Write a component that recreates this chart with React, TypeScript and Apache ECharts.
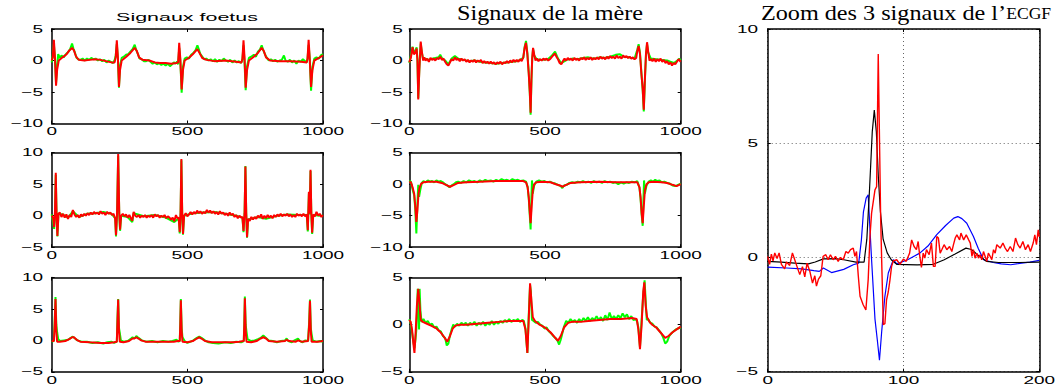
import React, { useEffect, useRef } from "react";
import * as echarts from "echarts";

// ---------- data ----------
const xTicks1000 = [0, 500, 1000];
const xTicks200 = [0, 100, 200];

const foetus1Red = [[0,0],[4,0.5],[8,3.3],[12,0.5],[16,-4.0],[20,-1.5],[26,0],[40,0.5],[55,1.0],[65,1.6],[75,2.0],[82,1.6],[90,0.6],[100,0.1],[120,0],[140,0.1],[160,0.2],[180,0.1],[200,-0.1],[220,-0.3],[232,-0.3],[236,0.5],[240,3.2],[244,0.5],[248,-4.2],[252,-1.5],[258,0],[275,0.6],[290,1.2],[306,2.0],[314,1.5],[322,0.5],[335,0.1],[360,0],[380,-0.3],[400,-0.4],[420,-0.4],[440,-0.5],[460,-0.4],[466,-0.3],[470,2.8],[474,0.3],[479,-4.6],[484,-1.5],[490,0],[505,0.4],[520,1.0],[537,1.8],[545,1.2],[555,0.4],[570,0.1],[600,-0.1],[640,0],[680,-0.2],[700,-0.3],[703,0.3],[707,3.2],[711,0.3],[715,-4.3],[720,-1.5],[727,0],[745,0.6],[760,1.2],[774,2.0],[782,1.5],[790,0.5],[805,0],[840,-0.1],[880,-0.1],[920,-0.2],[940,-0.3],[943,0.3],[947,3.3],[951,0.3],[956,-4.2],[961,-1.5],[968,0],[985,0.4],[1000,0.8]];
const foetus1Green = [[0,-0.3],[4,0.8],[8,2.6],[12,0.2],[16,-3.6],[20,-0.8],[24,1.0],[30,0.4],[36,0.8],[44,0.5],[52,1.0],[60,1.3],[68,1.8],[75,2.7],[80,1.9],[86,1.2],[92,0.4],[98,0.2],[106,0.1],[114,0.3],[122,0],[130,0.3],[138,0.1],[146,0.4],[154,0.2],[162,0.3],[170,0],[178,0.2],[186,-0.1],[194,0.1],[202,-0.3],[210,0],[218,-0.2],[226,-0.4],[232,0.1],[236,0.8],[240,2.6],[244,0.3],[248,-4.3],[252,-0.8],[258,0.4],[266,0.6],[274,0.9],[282,1.0],[290,1.4],[298,1.8],[306,2.5],[312,1.6],[318,1.0],[324,0.3],[332,0.2],[340,-0.1],[348,-0.1],[356,0.1],[364,-0.2],[372,-0.5],[380,-0.3],[388,-0.6],[396,-0.4],[404,-0.7],[412,-0.5],[420,-0.8],[428,-0.5],[436,-0.9],[444,-0.6],[450,-0.3],[456,-0.5],[462,-0.2],[466,-0.6],[470,2.0],[474,0.1],[479,-5.1],[484,-1.0],[490,0.3],[498,0.5],[506,0.3],[514,0.9],[522,1.2],[530,1.6],[537,2.4],[542,1.8],[548,1.0],[555,0.6],[562,0.2],[570,0.3],[578,0],[586,0.2],[594,-0.1],[602,0.2],[610,-0.2],[618,0.1],[626,-0.1],[634,0.3],[642,0],[650,-0.2],[658,0.1],[666,-0.3],[674,0],[682,-0.3],[690,-0.1],[698,-0.4],[703,0.2],[707,2.4],[711,-0.5],[715,-4.7],[720,-0.9],[727,0.4],[735,0.6],[745,0.9],[753,0.6],[760,1.4],[767,1.7],[774,2.4],[780,1.6],[786,1.0],[792,0.5],[800,0],[808,0.2],[816,-0.1],[824,0.1],[832,-0.2],[840,0],[848,0.1],[856,0.8],[862,0],[870,-0.2],[878,0.1],[886,-0.3],[894,0],[902,-0.5],[910,0],[918,-0.2],[926,0.2],[934,-0.1],[940,-0.3],[943,0.3],[947,2.5],[951,0.4],[956,-4.8],[961,-1.0],[968,0.3],[976,0.5],[984,0.3],[992,0.8],[1000,1.0]];

const foetus2Red = [[0,0],[5,-0.3],[9,-1.8],[12,0.5],[15,6.8],[18,0],[21,-3.2],[25,0.3],[30,0.5],[36,-0.2],[42,0.3],[48,-0.3],[54,0.2],[60,-0.5],[66,0.1],[72,-0.2],[78,0.9],[84,0.2],[90,-0.2],[96,0.1],[102,-0.3],[108,0.2],[114,-0.1],[120,0.3],[126,0],[132,0.4],[138,0.1],[144,0.5],[150,0.2],[156,0.6],[162,0.3],[168,0.5],[174,0.2],[180,0.7],[186,0.3],[192,0.5],[198,0.1],[204,0.6],[210,0.3],[216,0.5],[222,0.1],[228,0.3],[234,-0.5],[237,-3.1],[241,0.5],[245,9.8],[249,0.5],[252,-2.2],[256,0],[262,0.3],[268,-0.1],[274,0.2],[280,-0.3],[286,0.1],[292,-0.4],[297,-0.8],[302,0.6],[308,0],[314,-0.2],[320,0.1],[326,-0.3],[332,0],[338,-0.2],[344,0.1],[350,-0.3],[356,0],[362,-0.2],[368,0.1],[374,-0.3],[380,0.2],[386,-0.1],[392,0.1],[398,-0.3],[404,0],[410,-0.2],[416,0.1],[422,-0.4],[428,-0.1],[434,-0.3],[440,-0.6],[446,-0.3],[452,-0.9],[458,0.1],[463,-0.4],[468,-0.3],[472,-2.6],[475,0.5],[478,9.0],[481,0.5],[484,-2.9],[488,0],[494,0.4],[500,-0.1],[506,0.2],[512,0.6],[518,0.2],[524,0.6],[530,0.3],[536,0.8],[542,0.4],[548,0.7],[554,0.3],[560,0.6],[566,0.4],[572,0.9],[578,0.5],[584,0.8],[590,0.4],[596,0.7],[602,0.3],[608,0.6],[614,0.2],[620,0.7],[626,0.3],[632,0.5],[638,0.1],[644,0.4],[650,0],[656,0.5],[662,0.1],[668,0.3],[674,-0.2],[680,0.1],[686,-0.4],[692,0],[698,-0.3],[703,-0.2],[707,-2.4],[711,0.5],[714,7.8],[717,0.5],[720,-3.4],[724,-0.5],[730,-0.8],[736,-0.2],[742,-0.6],[748,-0.2],[754,-0.5],[760,0],[766,-0.3],[772,0.2],[778,-0.5],[784,0],[790,-0.4],[796,0.1],[802,-0.3],[808,0],[814,-0.4],[820,0.1],[826,-0.2],[832,0.2],[838,-0.1],[844,0.3],[850,-0.1],[856,0.2],[862,0],[868,0.3],[874,-0.1],[880,0.2],[886,-0.2],[892,0.1],[898,-0.2],[904,0.3],[910,0],[916,0.2],[922,-0.1],[928,0.3],[934,-0.1],[940,0.2],[944,-2.3],[948,3.8],[951,0.3],[954,7.3],[957,0.3],[960,-2.7],[964,0.2],[970,-0.1],[976,0.6],[982,0],[988,0.3],[994,-0.2],[1000,0.1]];
const foetus2Green = [[0,0.2],[9,-2.1],[12,0.3],[15,6.5],[18,0],[21,-3.3],[25,0.3],[40,0.2],[60,-0.3],[78,0.7],[100,-0.2],[130,0.3],[160,0.4],[190,0.6],[220,0.3],[234,-0.4],[237,-3.3],[241,0.3],[245,9.5],[249,0.3],[252,-2.4],[256,0],[280,-0.2],[297,-1.0],[302,0.4],[340,-0.1],[380,0.1],[420,-0.3],[452,-1.0],[468,-0.4],[472,-2.8],[475,0.3],[478,8.8],[481,0.3],[484,-3.0],[488,0],[520,0.4],[560,0.5],[600,0.6],[640,0.3],[680,0],[703,-0.3],[707,-2.6],[711,0.4],[714,7.9],[717,0.4],[720,-3.5],[724,-0.6],[760,-0.2],[790,-0.5],[830,0],[870,0.2],[910,0.1],[940,0.1],[944,-2.5],[948,3.5],[951,0.2],[954,7.1],[957,0.2],[960,-2.9],[964,0.1],[990,0],[1000,0]];

const foetus3Red = [[0,-0.1],[8,-0.1],[11,2.5],[14,6.6],[17,1.5],[20,-0.2],[30,-0.2],[50,-0.1],[65,0.2],[75,0.5],[82,0.5],[92,0.1],[105,-0.2],[140,-0.3],[180,-0.4],[210,-0.4],[230,-0.3],[240,-0.2],[242,2.5],[245,6.5],[248,1.5],[251,-0.2],[265,-0.3],[285,-0.1],[298,0.3],[305,0.3],[312,0.5],[320,0.3],[330,0],[345,-0.2],[380,-0.2],[420,-0.2],[450,-0.2],[465,-0.1],[472,-0.1],[474,2.5],[476,6.4],[479,1.5],[482,-0.2],[500,-0.3],[520,-0.1],[535,0.3],[544,0.5],[552,0.3],[565,-0.1],[590,-0.3],[630,-0.3],[670,-0.3],[690,-0.2],[708,-0.1],[710,2.5],[712,6.7],[715,1.5],[718,-0.2],[735,-0.3],[755,-0.1],[770,0.3],[780,0.5],[790,0.3],[800,-0.1],[830,-0.2],[860,-0.1],[866,0.1],[875,-0.1],[900,-0.2],[908,0],[920,-0.2],[945,-0.1],[949,2.5],[952,6.3],[955,1.5],[958,-0.2],[980,-0.2],[1000,-0.1]];
const foetus3Green = [[0,-0.2],[8,-0.1],[11,3.0],[14,6.9],[17,2.5],[20,1.3],[24,0.2],[30,-0.1],[45,0],[60,0.1],[70,0.4],[78,0.6],[86,0.3],[95,0],[110,-0.2],[130,-0.2],[150,-0.4],[170,-0.3],[190,-0.5],[205,-0.3],[220,-0.2],[230,-0.4],[240,-0.2],[242,3.0],[245,6.6],[248,2.0],[251,1.2],[255,0],[265,-0.2],[280,-0.1],[290,0.2],[298,0.5],[305,0.3],[312,0.7],[320,0.4],[332,0],[350,-0.2],[370,-0.1],[390,-0.3],[410,-0.1],[430,-0.2],[445,-0.1],[460,0.1],[466,-0.2],[472,-0.1],[474,3.0],[476,6.6],[479,2.0],[482,0.5],[490,-0.1],[500,-0.4],[512,-0.2],[522,0],[535,0.4],[544,0.6],[552,0.4],[565,0],[578,-0.3],[595,-0.4],[615,-0.5],[640,-0.3],[660,-0.4],[680,-0.2],[698,-0.3],[708,-0.1],[710,3.0],[712,7.0],[715,2.5],[718,1.4],[722,0.2],[735,-0.1],[748,0],[760,0.2],[770,0.4],[780,0.8],[790,0.4],[800,0],[815,-0.1],[830,-0.3],[845,-0.1],[860,0],[866,0.3],[872,-0.1],[885,-0.3],[895,0],[908,0.3],[915,-0.1],[925,-0.3],[935,0],[945,-0.1],[949,3.0],[952,6.5],[955,2.0],[958,1.0],[962,0],[975,-0.2],[990,-0.1],[1000,-0.2]];

const mere1Red = [[0,-0.3],[6,0.5],[12,2.1],[17,1.0],[22,1.2],[27,1.9],[30,0],[33,-6.2],[37,-1.5],[42,3.0],[46,1.5],[51,0],[55,0.5],[60,0],[66,0.3],[72,-0.2],[78,0.4],[84,0.1],[90,0.3],[96,0],[102,0.4],[108,0.2],[114,0.6],[120,0.1],[126,0.3],[132,-0.2],[138,-0.6],[144,-0.8],[150,-0.3],[156,0.2],[162,0],[168,0.5],[174,0.1],[180,0.3],[186,-0.1],[192,0.3],[198,0],[204,0.2],[210,-0.2],[216,0.1],[222,-0.3],[228,0],[234,-0.2],[240,0.1],[246,-0.3],[252,0],[258,-0.2],[264,0.1],[270,-0.4],[276,-0.1],[282,-0.4],[288,-0.2],[294,-0.5],[300,-0.2],[306,-0.5],[312,-0.3],[318,-0.6],[324,-0.3],[330,-0.5],[336,-0.2],[342,-0.6],[348,-0.3],[354,-0.4],[360,-0.1],[366,-0.4],[372,0],[378,-0.3],[384,0.1],[390,-0.2],[396,0.1],[402,-0.2],[408,0.2],[414,-0.1],[420,0.5],[425,2.0],[430,2.8],[435,1.0],[440,-2.0],[444,-5.0],[447,-8.3],[450,-3.0],[453,0.5],[456,2.0],[460,1.0],[465,0],[470,0.3],[476,-0.1],[482,0.2],[488,0],[494,0.3],[500,0.1],[506,0.3],[512,0],[518,0.2],[524,0.5],[530,0.8],[537,1.1],[542,0.6],[548,0.2],[554,-0.4],[560,-0.6],[566,-0.1],[572,0.3],[578,0],[584,0.4],[590,0.1],[596,0.3],[602,0],[608,0.4],[614,0.1],[620,0.3],[626,0],[632,0.4],[638,0.2],[644,0.5],[650,0.1],[656,0.4],[662,0.2],[668,0.5],[674,0.1],[680,0.4],[686,0.2],[692,0.5],[698,0.2],[704,0.6],[710,0.3],[716,0.5],[722,0.2],[728,0.6],[734,0.3],[740,0.7],[746,0.4],[752,0.6],[758,0.3],[764,0.8],[770,0.4],[776,0.6],[782,0.3],[788,0.8],[794,0.5],[800,0.7],[806,0.4],[812,0.6],[818,0.3],[824,0.5],[830,0.2],[836,0.4],[840,1.5],[845,2.3],[850,1.0],[855,-2.0],[860,-4.5],[864,-7.8],[868,-3.0],[872,1.0],[876,2.9],[880,1.5],[885,0],[890,0.2],[896,-0.1],[902,0.3],[908,-0.2],[914,0.2],[920,-0.1],[926,0.3],[932,-0.2],[938,0.1],[944,-0.4],[950,-0.1],[956,-0.6],[962,-0.3],[968,-0.8],[974,-0.4],[980,-0.6],[986,-0.2],[992,0.2],[1000,-0.2]];
const mere1Green = [[0,-0.4],[6,0.8],[12,2.2],[17,1.3],[22,1.5],[27,2.1],[30,0.2],[33,-6.0],[37,-1.3],[42,2.7],[46,1.3],[51,0.2],[60,0.3],[72,0.1],[84,0.3],[96,0.4],[108,0.5],[114,0.9],[120,0.4],[132,0],[144,-0.6],[156,0.3],[168,0.7],[180,0.3],[200,0.1],[220,-0.1],[240,0],[260,-0.2],[280,-0.3],[300,-0.4],[320,-0.5],[340,-0.4],[360,-0.3],[380,-0.2],[400,-0.1],[420,0.4],[425,2.2],[430,3.1],[435,1.2],[440,-1.8],[444,-5.2],[447,-8.6],[450,-3.2],[453,0.3],[456,1.8],[460,0.8],[470,0.2],[490,0.1],[510,0.2],[524,0.7],[537,1.4],[548,0.3],[560,-0.4],[580,0.1],[600,0.3],[620,0.2],[640,0.4],[660,0.5],[680,0.3],[700,0.5],[720,0.4],[740,0.6],[760,0.9],[775,1.0],[790,0.6],[810,0.5],[830,0.3],[840,1.7],[845,2.6],[850,1.2],[855,-1.8],[860,-4.7],[864,-8.1],[868,-3.2],[872,0.8],[876,2.6],[880,1.3],[890,0.3],[910,0.2],[930,0.1],[950,0],[962,-0.2],[975,-0.4],[985,-0.1],[995,0.3],[1000,0]];

const mere2Red = [[0,0.4],[6,0.3],[12,-0.5],[18,-1.5],[22,-3.5],[26,-6.0],[30,-4.0],[34,-1.5],[38,-0.5],[44,0.1],[52,0.3],[70,0.4],[100,0.4],[120,0.2],[135,-0.1],[150,-0.4],[165,-0.1],[180,0.2],[210,0.3],[260,0.4],[320,0.5],[380,0.5],[420,0.5],[430,0.3],[436,-0.5],[440,-2.0],[444,-4.5],[447,-6.2],[451,-3.5],[455,-1.0],[460,0],[468,0.3],[490,0.4],[520,0.3],[540,0],[555,-0.2],[565,-0.4],[578,-0.1],[595,0.2],[630,0.3],[700,0.4],[760,0.3],[820,0.3],[840,0.3],[848,-0.5],[852,-2.0],[856,-4.5],[860,-6.2],[864,-3.5],[868,-1.0],[874,0],[882,0.3],[900,0.4],[930,0.3],[950,0.2],[970,-0.1],[985,-0.3],[1000,0]];
const mere2Green = [[0,0.6],[6,0.4],[12,-0.8],[18,-1.8],[22,-4.0],[26,-7.8],[30,-3.0],[33,-0.1],[36,-2.0],[40,-1.0],[46,0.2],[52,0.5],[60,0.3],[68,0.6],[76,0.4],[84,0.5],[92,0.3],[100,0.6],[108,0.4],[116,0.5],[124,0.3],[132,0],[140,-0.2],[148,-0.5],[156,-0.2],[164,0],[172,0.3],[180,0.4],[190,0.2],[200,0.5],[210,0.3],[220,0.6],[230,0.4],[240,0.5],[250,0.3],[260,0.6],[270,0.4],[280,0.7],[290,0.5],[300,0.6],[310,0.4],[320,0.7],[330,0.5],[340,0.8],[350,0.6],[360,0.7],[370,0.5],[380,0.8],[390,0.6],[400,0.7],[410,0.5],[420,0.6],[430,0.4],[436,-0.4],[440,-2.2],[444,-5.0],[447,-7.2],[450,-2.0],[452,0.6],[455,-1.5],[460,-0.2],[468,0.4],[478,0.6],[488,0.4],[498,0.5],[508,0.3],[518,0.4],[528,0.2],[538,0.1],[548,-0.1],[558,-0.3],[564,-0.6],[570,-0.2],[580,-0.1],[590,0.2],[600,0.3],[610,0.2],[620,0.4],[630,0.3],[640,0.5],[650,0.3],[660,0.4],[670,0.2],[680,0.5],[690,0.3],[700,0.4],[710,0.2],[720,0.5],[730,0.3],[740,0.4],[750,0.2],[760,0.3],[770,0],[780,0.3],[790,0.1],[800,0.3],[810,0.2],[820,0.4],[830,0.3],[840,0.5],[848,-0.5],[852,-2.2],[856,-4.8],[860,-6.6],[863,-2.0],[865,0.6],[868,-1.5],[874,-0.2],[882,0.4],[890,0.6],[898,0.4],[906,0.7],[914,0.5],[922,0.6],[930,0.3],[940,0.4],[950,0.2],[960,0.1],[970,-0.2],[980,-0.3],[990,-0.1],[1000,0.1]];

const mere3Red = [[0,0.5],[5,0.3],[10,-0.5],[15,-2.0],[19,-3.0],[23,-1.0],[28,2.0],[33,3.8],[37,2.5],[42,0.5],[50,0.3],[65,0.1],[80,-0.1],[100,-0.4],[115,-0.8],[128,-1.3],[140,-1.8],[150,-1.2],[160,-0.4],[170,-0.1],[185,0],[210,0],[250,0.1],[290,0.2],[330,0.3],[370,0.4],[400,0.4],[420,0.4],[428,-0.5],[435,-3.0],[440,0.5],[445,4.4],[450,2.5],[455,0.8],[463,0.4],[480,0],[500,-0.3],[520,-0.8],[535,-1.3],[548,-1.7],[558,-1.2],[570,-0.3],[585,0.2],[600,0.3],[630,0.3],[660,0.4],[700,0.5],[740,0.6],[780,0.6],[820,0.7],[838,0.6],[844,-0.5],[850,-2.6],[856,0],[862,3.5],[866,4.5],[871,2.0],[876,0.8],[885,0.3],[895,0],[910,-0.3],[925,-0.8],[943,-1.4],[955,-1.2],[970,-0.8],[985,-0.5],[1000,-0.2]];
const mere3Green = [[0,0.6],[5,0.2],[10,-0.8],[15,-1.8],[19,-2.5],[23,-1.5],[26,-0.5],[28,1.0],[31,3.8],[34,2.0],[36,-0.5],[38,3.8],[41,1.5],[45,0.3],[52,0.6],[60,0.2],[68,0.4],[76,0],[84,0.1],[92,-0.3],[100,-0.2],[108,-0.6],[116,-0.7],[124,-1.2],[132,-1.4],[138,-2.2],[144,-2.0],[150,-1.1],[156,-0.5],[162,0],[168,-0.2],[176,0.1],[184,-0.1],[192,0.2],[200,0],[208,0.2],[216,-0.1],[224,0.2],[232,0],[240,0.3],[248,-0.1],[256,0.2],[264,0],[272,0.3],[280,-0.1],[288,0.2],[296,0],[304,0.4],[312,0],[320,0.3],[328,0.1],[336,0.4],[344,0.2],[352,0.5],[360,0.3],[368,0.6],[376,0.3],[384,0.5],[392,0.4],[400,0.6],[408,0.3],[416,0.5],[422,0.4],[428,-0.4],[435,-3.0],[440,1.0],[445,4.2],[448,3.5],[452,0.5],[458,0.4],[466,0.2],[474,0.3],[482,0],[490,-0.1],[498,-0.4],[506,-0.3],[514,-0.7],[522,-0.9],[530,-1.2],[538,-1.4],[546,-1.7],[552,-2.1],[558,-1.6],[564,-0.9],[570,-0.2],[578,0.4],[586,0.2],[594,0.6],[602,0.3],[610,0.5],[618,0.2],[626,0.6],[634,0.3],[642,0.7],[650,0.4],[658,0.8],[666,0.4],[674,0.7],[682,0.5],[690,0.9],[698,0.5],[706,0.8],[714,0.4],[722,1.0],[730,0.5],[738,1.3],[746,0.6],[754,0.9],[762,0.6],[770,1.0],[778,0.7],[786,1.2],[794,0.8],[802,1.1],[810,0.6],[818,0.9],[826,0.5],[834,0.6],[840,0.3],[844,-0.3],[850,-2.4],[856,0.5],[862,3.2],[867,4.7],[871,2.5],[875,0.5],[880,0.6],[888,0.2],[896,0.1],[904,-0.2],[912,-0.3],[920,-0.6],[928,-0.9],[936,-1.4],[943,-2.0],[950,-1.8],[958,-1.2],[966,-0.9],[974,-0.7],[982,-0.5],[990,-0.4],[1000,-0.3]];

const zoomBlue = [[0,-0.42],[14,-0.46],[25,-0.5],[34,-0.58],[38,-0.61],[41,-0.46],[47,-0.66],[56,-0.52],[63,-0.32],[67,-0.25],[69,0.77],[70.5,2.0],[72.5,2.6],[74,2.74],[76.5,-0.1],[79,-2.7],[80.7,-3.6],[82.3,-4.5],[84,-3.2],[86.3,-1.7],[88.8,-0.68],[92.5,-0.1],[95,-0.28],[103,-0.1],[112,0.19],[118,0.5],[124.5,1.0],[131,1.4],[137,1.72],[140,1.79],[143,1.7],[146.6,1.5],[151.5,0.92],[155,0.4],[159,-0.1],[166,-0.22],[172,-0.28],[179,-0.32],[187,-0.25],[193,-0.2],[200,-0.13]];
const zoomBlack = [[0,-0.17],[10,-0.2],[20,-0.25],[30,-0.28],[35,-0.2],[41,-0.06],[50,-0.05],[56,-0.1],[65,-0.2],[71,-0.2],[73,0.8],[75,3.0],[77,5.5],[78.5,6.45],[80,5.5],[81.5,3.5],[83,2.0],[85,0.8],[88,0.2],[91,-0.1],[95,-0.3],[110,-0.32],[122,-0.3],[130,-0.1],[138,0.15],[146,0.41],[150,0.35],[155,0.1],[161,-0.17],[170,-0.22],[185,-0.22],[200,-0.2]];
const zoomRed = [[0,0.05],[1.4,-0.3],[2.7,0.15],[3.9,-0.15],[5.2,0.2],[6.9,-0.05],[8.4,0.2],[10.1,-0.3],[12.5,-0.5],[13.8,-0.2],[16.2,-0.35],[18.2,0.2],[19.9,-0.1],[21.6,-0.4],[23.6,-0.75],[25.6,-0.4],[27.3,-0.85],[29,-0.25],[31,-0.6],[33,-1.12],[34.7,-0.8],[35.9,-1.25],[37.4,-0.95],[39.1,-0.8],[40.8,0.05],[42.8,0.12],[44.5,-0.1],[46.2,0.12],[48.2,-0.1],[49.9,0.05],[51.9,-0.17],[53.6,0],[55.6,-0.1],[57.6,0.26],[59.3,0.19],[61,0.34],[63,0.41],[64.2,0.05],[65.4,0.26],[66.7,-0.8],[68,-1.7],[70.3,-2.07],[72.3,-2.3],[74,-0.97],[75.3,0.92],[76.5,1.94],[79,2.96],[80.2,3.1],[81.4,8.9],[83.2,1.65],[85.1,-2.94],[86.3,-2.9],[87.5,-1.86],[88.8,-1.5],[90,-1.0],[91.2,-0.4],[92.5,-0.15],[95,-0.1],[97.4,-0.3],[99.9,-0.07],[102,-0.17],[104.5,0.19],[106,0.77],[107.8,0.48],[109.5,0.34],[110.8,0.7],[112,0.05],[113.2,-0.44],[114.5,0.19],[115.7,-0.03],[116.9,0.34],[118.9,0.12],[120.6,0.63],[122,-0.39],[123.3,-0.39],[124.5,0.92],[125.7,0.85],[127,0.19],[128.2,0.34],[129.9,0.56],[131.9,0.34],[133.9,0.48],[135.6,0.26],[136.8,0.56],[138.1,0.85],[139.3,0.99],[141.3,0.77],[142.3,1.07],[144.3,0.77],[146.2,0.99],[148,0.77],[149.2,0.63],[150.4,0.05],[151.5,0.34],[152.7,-0.03],[154,0.19],[155.2,-0.03],[156.4,0.12],[157.6,-0.1],[158.9,0.26],[160.1,0.05],[161.3,-0.17],[162.5,0.19],[163.8,0.05],[165,-0.1],[166.3,0.34],[167.5,0.19],[168.7,0.56],[171.2,0.41],[173.2,0.63],[174.9,0.41],[176.6,0.26],[178.6,0.48],[180.6,0.26],[182.5,0.85],[184.2,0.56],[185.9,0.41],[187.9,0.7],[189.8,0.34],[191.8,0.56],[193.5,0.26],[195.5,0.63],[196.7,0.99],[197.9,0.56],[199.2,1.21],[200,0.9]];

const GREEN = "#00ff00";
const RED = "#ff0000";
const BLUE = "#0000ff";
const BLACK = "#000000";

type Panel = {
  grid: { left: number; top: number; width: number; height: number };
  xMax: number; xInt: number; xTicks: number[];
  yMin: number; yMax: number;
  lines: [number[][], string, number][];
  gap: number; dotted: boolean;
};

const panels: Panel[] = [
  { grid: { left: 51.7, top: 29, width: 271.3, height: 94.5 }, xMax: 1000, xInt: 500, xTicks: xTicks1000, yMin: -10, yMax: 5, lines: [[foetus1Green, GREEN, 2], [foetus1Red, RED, 2]], gap: 8.5, dotted: false },
  { grid: { left: 51.7, top: 152.7, width: 271.3, height: 94.5 }, xMax: 1000, xInt: 500, xTicks: xTicks1000, yMin: -5, yMax: 10, lines: [[foetus2Green, GREEN, 2], [foetus2Red, RED, 2]], gap: 8.5, dotted: false },
  { grid: { left: 51.7, top: 277.6, width: 271.3, height: 94.2 }, xMax: 1000, xInt: 500, xTicks: xTicks1000, yMin: -5, yMax: 10, lines: [[foetus3Green, GREEN, 2], [foetus3Red, RED, 2]], gap: 8.5, dotted: false },
  { grid: { left: 409.3, top: 29, width: 271.4, height: 94.5 }, xMax: 1000, xInt: 500, xTicks: xTicks1000, yMin: -10, yMax: 5, lines: [[mere1Green, GREEN, 2], [mere1Red, RED, 2]], gap: 6.5, dotted: false },
  { grid: { left: 409.3, top: 152.7, width: 271.4, height: 94.5 }, xMax: 1000, xInt: 500, xTicks: xTicks1000, yMin: -10, yMax: 5, lines: [[mere2Green, GREEN, 2], [mere2Red, RED, 2]], gap: 6.5, dotted: false },
  { grid: { left: 409.3, top: 277.6, width: 271.4, height: 94.2 }, xMax: 1000, xInt: 500, xTicks: xTicks1000, yMin: -5, yMax: 5, lines: [[mere3Green, GREEN, 2], [mere3Red, RED, 2]], gap: 6.5, dotted: false },
  { grid: { left: 767.7, top: 29, width: 271.6, height: 342.7 }, xMax: 200, xInt: 100, xTicks: xTicks200, yMin: -5, yMax: 10, lines: [[zoomBlue, BLUE, 1.2], [zoomBlack, BLACK, 1.2], [zoomRed, RED, 1.4]], gap: 9.5, dotted: true },
];

const fmt = (v: number) => (v < 0 ? "\u2212" + Math.abs(v) : String(v));

export default function App() {
  const ref = useRef<HTMLDivElement>(null);
  useEffect(() => {
    const chart = echarts.init(ref.current!, null, { renderer: "svg" });
    const grids: any[] = [];
    const xAxes: any[] = [];
    const yAxes: any[] = [];
    const series: any[] = [];
    const axLine = { show: true, onZero: false, lineStyle: { color: "#000", width: 1.5 } };
    const tick = { show: true, inside: true, length: 3, lineStyle: { color: "#000", width: 1 } };
    const dotted = { show: true, lineStyle: { color: "#666", type: [1, 3], width: 1 } };
    panels.forEach((p, i) => {
      grids.push({ ...p.grid, containLabel: false, show: false });
      const xb = { gridIndex: i, type: "value", min: 0, max: p.xMax, interval: p.xInt, axisLine: axLine, axisTick: tick, axisLabel: { show: false } };
      xAxes.push({ ...xb, position: "bottom", splitLine: p.dotted ? dotted : { show: false } });
      xAxes.push({ ...xb, position: "top", splitLine: { show: false } });
      const yb = { gridIndex: i, type: "value", min: p.yMin, max: p.yMax, interval: 5, axisLine: axLine, axisTick: tick, axisLabel: { show: false } };
      yAxes.push({ ...yb, position: "left", splitLine: p.dotted ? dotted : { show: false } });
      yAxes.push({ ...yb, position: "right", splitLine: { show: false } });
      p.lines.forEach(([data, color, width]) => {
        series.push({
          type: "line", xAxisIndex: 2 * i, yAxisIndex: 2 * i, data,
          showSymbol: false, symbol: "none", silent: true, clip: true,
          lineStyle: { color, width }, emphasis: { disabled: true },
        });
      });
    });
    chart.setOption({ animation: false, grid: grids, xAxis: xAxes, yAxis: yAxes, series });

    const elements: any[] = [];
    const labelFont = { fontFamily: "Liberation Sans", fontSize: 10, fill: "#000" };
    panels.forEach((p, i) => {
      const yBottom = chart.convertToPixel({ yAxisIndex: 2 * i } as any, p.yMin) as number;
      const xLeft = chart.convertToPixel({ xAxisIndex: 2 * i } as any, 0) as number;
      p.xTicks.forEach((xv) => {
        const px = chart.convertToPixel({ xAxisIndex: 2 * i } as any, xv) as number;
        elements.push({
          type: "text", x: px, y: yBottom + 8.2, scaleX: 1.9, silent: true,
          style: { ...labelFont, text: fmt(xv), textAlign: "center", textVerticalAlign: "middle", align: "center", verticalAlign: "middle" },
        });
      });
      for (let yv = p.yMin; yv <= p.yMax; yv += 5) {
        const py = chart.convertToPixel({ yAxisIndex: 2 * i } as any, yv) as number;
        elements.push({
          type: "text", x: xLeft - p.gap, y: py, scaleX: 1.9, silent: true,
          style: { ...labelFont, text: fmt(yv), textAlign: "right", textVerticalAlign: "middle", align: "right", verticalAlign: "middle" },
        });
      }
    });
    // titles
    elements.push({
      type: "text", x: 187, y: 17.3, scaleX: 1.95, silent: true,
      style: { text: "Signaux foetus", fontFamily: "Liberation Sans", fontSize: 11, fill: "#000", textAlign: "center", textVerticalAlign: "middle", align: "center", verticalAlign: "middle" },
    });
    elements.push({
      type: "text", x: 550, y: 12.3, scaleX: 1.1, silent: true,
      style: { text: "Signaux de la m\u00e8re", fontFamily: "Liberation Serif", fontSize: 22, fill: "#000", textAlign: "center", textVerticalAlign: "middle", align: "center", verticalAlign: "middle" },
    });
    elements.push({
      type: "text", x: 906, y: 12.3, scaleX: 1.1, silent: true,
      style: {
        text: "{n|Zoom des 3 signaux de l\u2019}{sc|ECGF}",
        fontFamily: "Liberation Serif", fontSize: 22, fill: "#000",
        textAlign: "center", textVerticalAlign: "middle", align: "center", verticalAlign: "middle",
        rich: {
          n: { fontFamily: "Liberation Serif", fontSize: 22, fill: "#000", verticalAlign: "bottom" },
          sc: { fontFamily: "Liberation Serif", fontSize: 16, fill: "#000", verticalAlign: "bottom", padding: [0, 0, 1.5, 0] },
        },
      },
    });
    chart.setOption({ graphic: { elements } });
    return () => chart.dispose();
  }, []);
  return (
    <div
      ref={ref}
      style={{ position: "fixed", left: 0, top: 0, width: 1056, height: 387, background: "#fff" }}
    />
  );
}
